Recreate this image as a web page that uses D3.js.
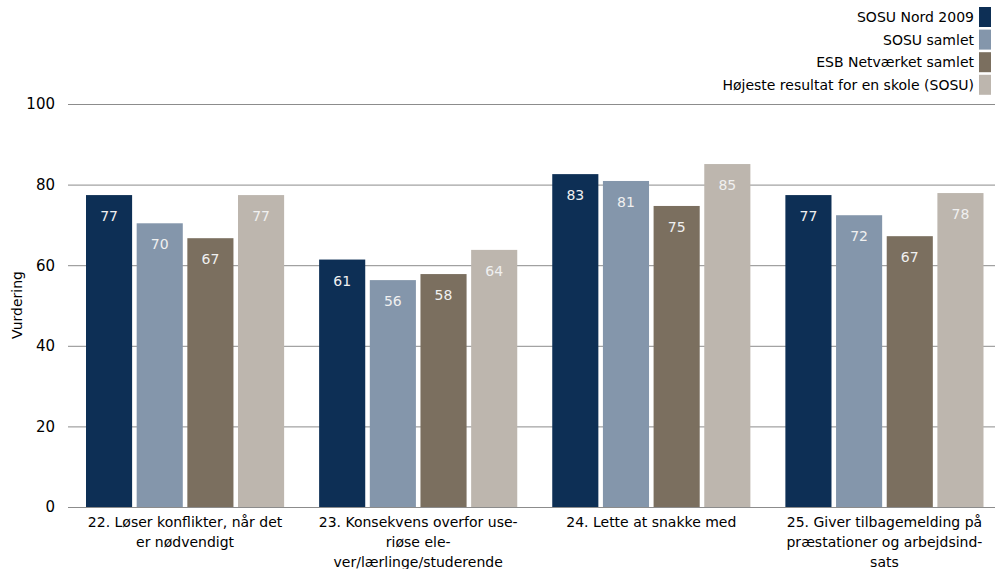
<!DOCTYPE html>
<html><head><meta charset="utf-8">
<script src="https://cdn.jsdelivr.net/npm/d3@7"></script>
<style>body{margin:0;background:#fff}svg{display:block;font-family:Tahoma,"DejaVu Sans",sans-serif}</style>
</head><body><svg id="c" width="995" height="569"></svg>
<script>
const categories = [
  "22. Løser konflikter, når det\ner nødvendigt",
  "23. Konsekvens overfor use-\nriøse ele-\nver/lærlinge/studerende",
  "24. Lette at snakke med",
  "25. Giver tilbagemelding på\npræstationer og arbejdsind-\nsats"
];
const seriesNames = ["SOSU Nord 2009", "SOSU samlet", "ESB Netværket samlet", "Højeste resultat for en skole (SOSU)"];
const sosuNord = [77.4, 61.4, 82.6, 77.4];
const sosuSamlet = [70.4, 56.3, 80.9, 72.4];
const esbSamlet = [66.7, 57.8, 74.7, 67.2];
const hoejeste = [77.4, 63.8, 85.1, 77.9];
const yTicks = [0, 20, 40, 60, 80, 100];
const colors = ["#0d2f55", "#8496ab", "#7b6f5f", "#bdb6ae"];
const series = [sosuNord, sosuSamlet, esbSamlet, hoejeste];

const svg = d3.select("#c");
const y = d3.scaleLinear().domain([0, 100]).range([507, 104]);
const x0 = d3.scaleBand().domain(categories).range([68.5, 1001]).paddingInner(0).paddingOuter(0);
const x1 = d3.scaleBand().domain(d3.range(4)).range([17.5, x0.bandwidth() - 17.5]).paddingInner(0.09);

// gridlines
const yAxis = d3.axisLeft(y).tickValues(yTicks).tickSize(-(995 - 68)).tickPadding(13).tickFormat(d3.format("d"));
const gAx = svg.append("g").attr("transform", "translate(68,0)").call(yAxis);
gAx.select(".domain").remove();
gAx.selectAll(".tick line").attr("stroke", "#8c8c8c").attr("stroke-width", 1);
gAx.selectAll(".tick text").attr("font-size", 15).attr("fill", "#000").attr("font-family", "Tahoma, 'DejaVu Sans', sans-serif");

// bars
const groups = svg.append("g").selectAll("g").data(categories).join("g")
  .attr("transform", d => `translate(${x0(d)},0)`);
groups.each(function(cat, ci) {
  const g = d3.select(this);
  series.forEach((s, si) => {
    const v = s[ci];
    g.append("rect").attr("x", x1(si)).attr("y", y(v)).attr("width", x1.bandwidth())
      .attr("height", y(0) - y(v)).attr("fill", colors[si]);
    g.append("text").attr("x", x1(si) + x1.bandwidth() / 2).attr("y", y(v) + 26)
      .attr("text-anchor", "middle").attr("font-size", 14).attr("fill", "#f0f0f0")
      .text(Math.round(v));
  });
  const lines = cat.split("\n");
  const t = g.append("text").attr("text-anchor", "middle").attr("font-size", 14).attr("fill", "#000");
  lines.forEach((ln, i) => {
    t.append("tspan").attr("x", x0.bandwidth() / 2).attr("y", 527 + i * 20).text(ln);
  });
});

// y title
svg.append("text").attr("transform", "translate(22,305) rotate(-90)").attr("text-anchor", "middle")
  .attr("font-size", 14).text("Vurdering");

// legend
const leg = svg.append("g");
seriesNames.forEach((n, i) => {
  const cy = 17 + i * 22.6;
  leg.append("rect").attr("x", 979).attr("y", cy - 10).attr("width", 12).attr("height", 20).attr("fill", colors[i]);
  leg.append("text").attr("x", 974).attr("y", cy + 5).attr("text-anchor", "end").attr("font-size", 14).text(n);
});
</script></body></html>
